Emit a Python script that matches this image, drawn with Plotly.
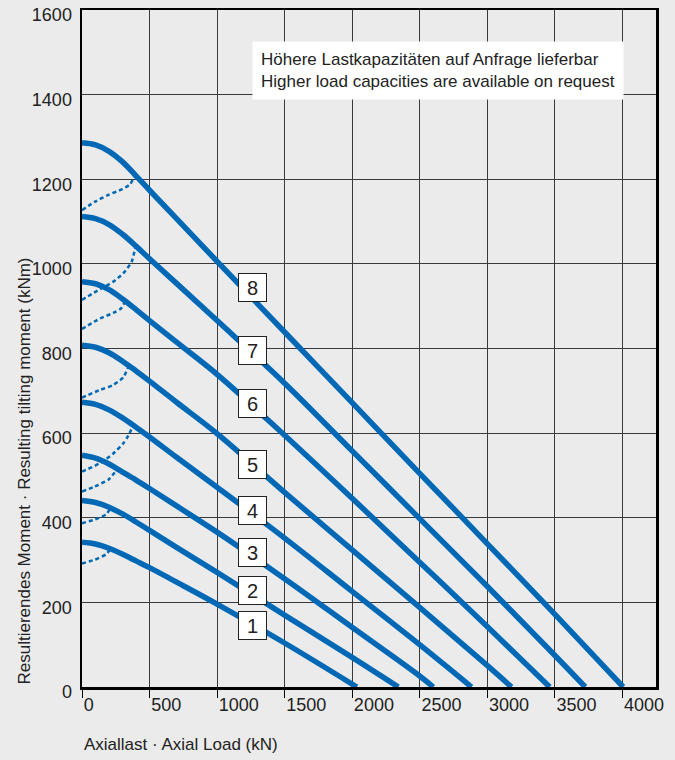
import plotly.graph_objects as go

# ---- data ----
c1_x = [0, 100, 200, 300, 400, 500, 700, 1000, 1500, 2035]
c1_y = [342, 338, 328, 314, 298, 282, 248, 196, 104, 0]
c2_x = [0, 100, 200, 300, 400, 500, 700, 1000, 1500, 2000, 2342]
c2_y = [441, 436, 425, 409, 390, 370, 330, 271, 170, 70, 0]
c3_x = [0, 100, 200, 300, 400, 500, 700, 1000, 1500, 2000, 2500, 2601]
c3_y = [548, 541, 527, 508, 489, 469, 428, 366, 256, 141, 26, 0]
c4_x = [0, 100, 200, 300, 400, 500, 700, 1000, 1500, 2000, 2500, 2884]
c4_y = [673, 668, 655, 636, 614, 591, 543, 472, 352, 226, 100, 0]
c5_x = [0, 100, 200, 300, 400, 500, 700, 1000, 1500, 2000, 2500, 3000, 3180]
c5_y = [808, 803, 790, 770, 747, 723, 673, 599, 460, 324, 188, 51, 0]
c6_x = [0, 100, 200, 300, 400, 500, 700, 1000, 1500, 2000, 2500, 3000, 3463]
c6_y = [958, 953, 939, 917, 892, 866, 815, 739, 595, 446, 295, 143, 0]
c7_x = [0, 100, 200, 300, 400, 500, 700, 1000, 1500, 2000, 2500, 3000, 3500, 3726]
c7_y = [1112, 1107, 1093, 1070, 1042, 1012, 954, 866, 718, 558, 398, 238, 75, 0]
c8_x = [0, 100, 200, 300, 400, 500, 700, 1000, 1500, 2000, 2500, 3000, 3500, 4007]
c8_y = [1286, 1281, 1266, 1241, 1208, 1174, 1107, 1006, 839, 672, 505, 339, 172, 0]

# dashed transition curves
dA_x = [0, 96, 195, 294, 356, 393]
dA_y = [1127, 1147, 1163, 1176, 1188, 1211]
dB_x = [0, 133, 232, 306, 368, 395]
dB_y = [915, 940, 958, 978, 1005, 1041]
dC_x = [0, 133, 232, 290, 318]
dC_y = [846, 871, 884, 895, 911]
dD_x = [0, 133, 232, 306, 345]
dD_y = [684, 702, 714, 732, 758]
dE_x = [0, 133, 232, 306, 343, 378]
dE_y = [509, 529, 552, 576, 594, 618]
dF_x = [0, 96, 195, 257]
dF_y = [462, 474, 490, 513]
dG_x = [0, 96, 180, 207]
dG_y = [387, 396, 408, 421]
dH_x = [0, 96, 180, 207]
dH_y = [292, 301, 314, 325]

curve_labels = ["1", "2", "3", "4", "5", "6", "7", "8"]
label_x = [1266, 1266, 1266, 1266, 1266, 1266, 1266, 1266]
label_y = [146, 227, 319, 416, 527, 670, 795, 943]

x_ticks = [0, 500, 1000, 1500, 2000, 2500, 3000, 3500, 4000]
y_ticks = [0, 200, 400, 600, 800, 1000, 1200, 1400, 1600]

note_text = "Höhere Lastkapazitäten auf Anfrage lieferbar<br>Higher load capacities are available on request"
x_title = "Axiallast · Axial Load (kN)"
y_title = "Resultierendes Moment · Resulting tilting moment (kNm)"

BLUE = "#0068b4"
BG = "#ebebeb"
FONT = "Liberation Sans, Arial, sans-serif"
TXT = "#222222"

fig = go.Figure()

dashed = [(dA_x, dA_y), (dB_x, dB_y), (dC_x, dC_y), (dD_x, dD_y),
          (dE_x, dE_y), (dF_x, dF_y), (dG_x, dG_y), (dH_x, dH_y)]
for dx, dy in dashed:
    fig.add_trace(go.Scatter(x=dx, y=dy, mode="lines",
                             line=dict(color=BLUE, width=2.5, dash="4px,3px",
                                       shape="spline", smoothing=0.6),
                             hoverinfo="skip", showlegend=False))

curves = [(c1_x, c1_y), (c2_x, c2_y), (c3_x, c3_y), (c4_x, c4_y),
          (c5_x, c5_y), (c6_x, c6_y), (c7_x, c7_y), (c8_x, c8_y)]
for cx, cy in curves:
    fig.add_trace(go.Scatter(x=cx, y=cy, mode="lines",
                             line=dict(color=BLUE, width=5.5,
                                       shape="spline", smoothing=1.0),
                             showlegend=False))

annotations = []
for t, lx, ly in zip(curve_labels, label_x, label_y):
    annotations.append(dict(x=lx, y=ly, xref="x", yref="y", text=t,
                            showarrow=False, bgcolor="white",
                            bordercolor="#222222", borderwidth=1,
                            borderpad=1, width=25, height=25,
                            font=dict(family=FONT, size=20, color=TXT)))

annotations.append(dict(x=1259, y=1527, xref="x", yref="y", text=note_text,
                        xanchor="left", yanchor="top", align="left",
                        showarrow=False, bgcolor="white", borderpad=8,
                        font=dict(family=FONT, size=17, color=TXT)))

annotations.append(dict(x=0, y=0, xref="paper", yref="paper", text=x_title,
                        xanchor="left", yanchor="middle", yshift=-57,
                        showarrow=False,
                        font=dict(family=FONT, size=17, color=TXT)))
annotations.append(dict(x=0, y=0, xref="paper", yref="paper", text=y_title,
                        textangle=-90, xanchor="center", yanchor="bottom",
                        xshift=-58, showarrow=False,
                        font=dict(family=FONT, size=17, color=TXT)))

fig.update_layout(
    width=675, height=760,
    margin=dict(l=82, r=19, t=10, b=73, autoexpand=False),
    paper_bgcolor=BG, plot_bgcolor=BG,
    annotations=annotations,
    font=dict(family=FONT, size=18, color=TXT),
)
fig.update_xaxes(range=[0, 4250], tickvals=x_ticks,
                 ticktext=[str(v) for v in x_ticks],
                 showgrid=True, gridcolor="#3a3a3a", gridwidth=1,
                 showline=True, linecolor="black", linewidth=2.5, mirror=True,
                 ticks="outside", ticklen=8, tickwidth=1, tickcolor="black",
                 ticklabelposition="outside right",
                 tickfont=dict(family=FONT, size=18, color=TXT),
                 zeroline=False, automargin=False)
fig.update_yaxes(range=[0, 1600], tickvals=y_ticks,
                 ticktext=[str(v) for v in y_ticks],
                 showgrid=True, gridcolor="#3a3a3a", gridwidth=1,
                 showline=True, linecolor="black", linewidth=2.5, mirror=True,
                 ticks="", ticklabelstandoff=4, ticklabelshift=5,
                 tickfont=dict(family=FONT, size=18, color=TXT),
                 zeroline=False, automargin=False)

fig.write_html(
    "out.html",
    config={"displayModeBar": False, "staticPlot": True},
    post_script="document.body.style.margin='0';"
                "document.body.style.background='" + BG + "';"
                "document.body.style.overflow='hidden';",
)
